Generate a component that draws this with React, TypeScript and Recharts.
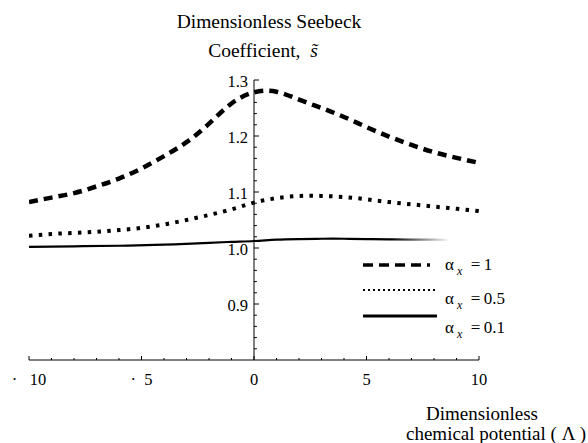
import React from 'react';
import { LineChart, Line, XAxis, YAxis, ReferenceLine, Legend } from 'recharts';

// ---- data ----
const lambda = [-10, -9, -8, -7, -6, -5, -4, -3, -2, -1, 0, 1, 2, 3, 4, 5, 6, 7, 8, 9, 10];
const sAlpha1 = [1.082, 1.09, 1.098, 1.11, 1.124, 1.142, 1.164, 1.189, 1.222, 1.258, 1.278, 1.279, 1.265, 1.25, 1.234, 1.216, 1.199, 1.184, 1.171, 1.161, 1.152];
const sAlpha05 = [1.022, 1.025, 1.027, 1.029, 1.032, 1.036, 1.042, 1.05, 1.059, 1.069, 1.081, 1.089, 1.093, 1.093, 1.091, 1.087, 1.082, 1.078, 1.074, 1.07, 1.066];
const lambdaAlpha01 = [-10, -8, -6, -4, -2, -1, 0, 1, 2, 3, 4, 5, 6, 7, 8, 8.7];
const sAlpha01 = [1.002, 1.003, 1.004, 1.006, 1.009, 1.011, 1.0125, 1.015, 1.016, 1.0165, 1.0165, 1.016, 1.0155, 1.015, 1.015, 1.0145];
const alphaLabels = ['1', '0.5', '0.1'];

const xTicks = lambda;
const xMajorTicks = [-10, -5, 0, 5, 10];
const xMajorLabels = ['\u00b7\u2002 10', '\u00b7\u20025', '0', '5', '10'];
const yMajorTicks = [0.9, 1.0, 1.1, 1.2, 1.3];
const yMajorLabels = ['0.9', '1.0', '1.1', '1.2', '1.3'];
const yMinorTicks = [0.82, 0.84, 0.86, 0.88, 0.92, 0.94, 0.96, 0.98, 1.02, 1.04, 1.06, 1.08, 1.12, 1.14, 1.16, 1.18, 1.22, 1.24, 1.26, 1.28];

const dataA1 = lambda.map((l, i) => ({ lambda: l, s: sAlpha1[i] }));
const dataA05 = lambda.map((l, i) => ({ lambda: l, s: sAlpha05[i] }));
const dataA01 = lambdaAlpha01.map((l, i) => ({ lambda: l, s: sAlpha01[i] }));

const FONT = "'Liberation Serif', 'Times New Roman', Tinos, Times, FreeSerif";

const SText = (props: any) => {
  const { children, ...rest } = props;
  return (
    <text fontFamily={FONT} fill="#000" {...rest}>
      {children}
    </text>
  );
};

const XTick = (props: any) => {
  const { x, y, payload } = props;
  const idx = xMajorTicks.indexOf(payload.value);
  const major = idx >= 0;
  return (
    <g>
      <line x1={x} x2={x} y1={y} y2={y - (major ? 4 : 2)} stroke="#000" strokeWidth={1} />
      {major && (
        <SText x={x} y={y + 25} textAnchor="middle" fontSize={16.5}>
          {xMajorLabels[idx]}
        </SText>
      )}
    </g>
  );
};

const legendStyles = [
  { strokeWidth: 3.5, dash: '10 6', y: 15, x2: 70, top: 6 },
  { strokeWidth: 2, dash: '2 3', y: 40, x2: 75, top: 40 },
  { strokeWidth: 3, dash: undefined as string | undefined, y: 66, x2: 77, top: 69 },
];

const htmlText = (size: number): React.CSSProperties => ({
  position: 'absolute',
  fontFamily: FONT,
  fontSize: size,
  lineHeight: `${size}px`,
  whiteSpace: 'nowrap',
  color: '#000',
});

const LegendContent = () => (
  <div style={{ position: 'relative', width: 230, height: 95 }}>
    <svg width={230} height={95} style={{ position: 'absolute', left: 0, top: 0 }}>
      {legendStyles.map((st, i) => (
        <line key={i} x1={3} x2={st.x2} y1={st.y} y2={st.y} stroke="#000" strokeWidth={st.strokeWidth} strokeDasharray={st.dash} />
      ))}
    </svg>
    {alphaLabels.map((lab, i) => (
      <div key={lab} style={{ ...htmlText(17), left: 85, top: legendStyles[i].top }}>
        α<sub style={{ fontStyle: 'italic', fontSize: 12, verticalAlign: '-5px', marginLeft: 3 }}>x</sub>
        {'\u2002=\u2009' + lab}
      </div>
    ))}
  </div>
);

export default function App() {
  return (
    <div style={{ position: 'absolute', left: 0, top: 0, width: 588, height: 443, background: '#fff', fontFamily: FONT }}>
      <LineChart width={588} height={443} margin={{ top: 80, right: 109, bottom: 0, left: 29 }}>
        <defs>
          <linearGradient id="fadeSolid" x1="0" y1="0" x2="1" y2="0">
            <stop offset="0" stopColor="#000" stopOpacity={1} />
            <stop offset="0.86" stopColor="#000" stopOpacity={1} />
            <stop offset="1" stopColor="#000" stopOpacity={0} />
          </linearGradient>
        </defs>
        <XAxis
          type="number"
          dataKey="lambda"
          domain={[-10, 10]}
          ticks={xTicks}
          height={83}
          tickSize={0}
          tickMargin={0}
          tickLine={false}
          tick={<XTick />}
          axisLine={{ stroke: '#000', strokeWidth: 1 }}
          allowDataOverflow
          interval={0}
        />
        <YAxis type="number" domain={[0.8, 1.3]} hide allowDataOverflow />
        <ReferenceLine x={0} stroke="#000" strokeWidth={1} />
        {yMinorTicks.map((v) => (
          <ReferenceLine key={'m' + v} segment={[{ x: 0, y: v }, { x: 0.13, y: v }]} stroke="#000" strokeWidth={1} />
        ))}
        {yMajorTicks.map((v, i) => (
          <ReferenceLine
            key={'M' + v}
            segment={[{ x: 0, y: v }, { x: 0.22, y: v }]}
            stroke="#000"
            strokeWidth={1}
            label={(p: any) => (
              <SText x={p.viewBox.x - 6} y={p.viewBox.y + 7} textAnchor="end" fontSize={16.5}>
                {yMajorLabels[i]}
              </SText>
            )}
          />
        ))}
        <Line
          data={dataA1}
          dataKey="s"
          name="α_x = 1"
          type="natural"
          stroke="#000"
          strokeWidth={4.5}
          strokeDasharray="9 6"
          dot={false}
          activeDot={false}
          isAnimationActive={false}
        />
        <Line
          data={dataA05}
          dataKey="s"
          name="α_x = 0.5"
          type="natural"
          stroke="#000"
          strokeWidth={4}
          strokeDasharray="3.5 6.3"
          dot={false}
          activeDot={false}
          isAnimationActive={false}
        />
        <Line
          data={dataA01}
          dataKey="s"
          name="α_x = 0.1"
          type="natural"
          stroke="url(#fadeSolid)"
          strokeWidth={2.2}
          dot={false}
          activeDot={false}
          isAnimationActive={false}
        />
        <Legend
          layout="vertical"
          align="center"
          verticalAlign="middle"
          content={<LegendContent />}
          wrapperStyle={{ left: 360, top: 250, width: 230, height: 95 }}
        />
      </LineChart>
      <div style={{ ...htmlText(19.5), left: 119, width: 300, textAlign: 'center', top: 12 }}>Dimensionless Seebeck</div>
      <div style={{ ...htmlText(19.5), left: 113, width: 300, textAlign: 'center', top: 41 }}>
        {'Coefficient,\u2002'}
        <span style={{ fontStyle: 'italic' }}>{'s\u0303'}</span>
      </div>
      <div style={{ ...htmlText(19), left: 382, width: 200, textAlign: 'center', top: 404 }}>Dimensionless</div>
      <div style={{ ...htmlText(19), right: 2, top: 424 }}>chemical potential ( Λ )</div>
    </div>
  );
}
